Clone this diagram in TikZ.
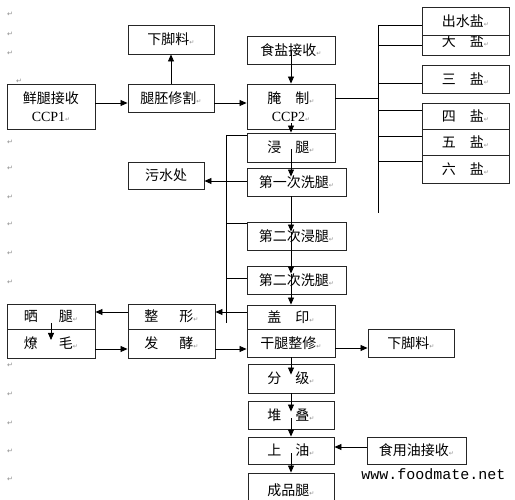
\documentclass[tikz,border=0pt]{standalone}
\usepackage{fontspec}
\setmainfont{Liberation Serif}
\newfontfamily\cjk{Noto Sans CJK SC}
\newfontfamily\symf{DejaVu Sans}
\newfontfamily\monof{Liberation Mono}
\usetikzlibrary{arrows.meta}
\newcommand\retmark{{\symf\fontsize{6}{6}\selectfont\color{black!45}↵}}
\begin{document}
\begin{tikzpicture}[x=1pt,y=-1pt,
  >={Triangle[length=7pt,width=6pt]},
  line width=0.8pt,
  box/.style n args={2}{draw=black!85, line width=0.9pt, fill=white, inner sep=0pt,
    minimum width=#1pt, minimum height=#2pt, align=center,
    font=\cjk\fontsize{14}{18}\selectfont},
  retm/.style={font=\symf\fontsize{7}{7}\selectfont, text=black!45, inner sep=0pt}]
\useasboundingbox[fill=white] (0,0) rectangle (515,500);
% paragraph marks at the left margin
\foreach \yy [count=\i] in {14,34,53,142,168,197,224,253,282,365,394,423,451,479}
  \node[retm] (m\i) at (10,\yy) {↵};
\node[retm] (m0) at (19,81) {↵};
% boxes
\node[box={88}{45}] (xj) at (51,106.5) {鲜腿接收\\{\rmfamily CCP1}\retmark};
\node[box={86}{29}] (xjl) at (171,39.5) {下脚料\retmark};
\node[box={86}{28}] (tp) at (171,98) {腿胚修割\retmark};
\node[box={88}{28}] (ys) at (291,50) {食盐接收\retmark};
\node[box={88}{45}] (yz) at (291,106.5) {腌\hspace{1em}制\retmark\\{\rmfamily CCP2}\retmark};
\node[box={88}{29}] (jt) at (291,147.5) {浸\hspace{1em}腿\retmark};
\node[box={99}{28}] (x1) at (296.5,182) {第一次洗腿\retmark};
\node[box={76}{27}] (ws) at (166,175.5) {污水处};
\node[box={99}{28}] (j2) at (296.5,236) {第二次浸腿\retmark};
\node[box={99}{28}] (x2) at (296.5,280) {第二次洗腿\retmark};
\node[box={88}{24}] (gy) at (291,317) {盖\hspace{1em}印\retmark};
\node[box={88}{28}] (gt) at (291,343) {干腿整修\retmark};
\node[box={86}{28}] (xjr) at (411,343) {下脚料\retmark};
\node[box={88}{25}] (st) at (51,316.5) {晒\hspace{1.5em}腿\retmark};
\node[box={88}{29}] (lm) at (51,343.5) {燎\hspace{1.5em}毛\retmark};
\node[box={87}{25}] (zx) at (171.5,316.5) {整\hspace{1.5em}形\retmark};
\node[box={87}{29}] (fj) at (171.5,343.5) {发\hspace{1.5em}酵\retmark};
\node[box={86}{29}] (fjb) at (291,378.5) {分\hspace{1em}级\retmark};
\node[box={86}{28}] (dd) at (291,415) {堆\hspace{1em}叠\retmark};
\node[box={86}{27}] (sy) at (291,450.5) {上\hspace{1em}油\retmark};
\node[box={86}{37}] (cp) at (291,491.5) {\raisebox{4pt}{成品腿\retmark}};
\node[box={99}{27}] (syy) at (416.5,450.5) {食用油接收\retmark};
% salt boxes
\node[box={87}{28}] (ds) at (465.5,41) {\raisebox{-2pt}{大\hspace{1em}盐\retmark}};
\node[box={87}{28}] (cs) at (465.5,21) {出水盐\retmark};
\node[box={87}{28}] (s3) at (465.5,79) {三\hspace{1em}盐\retmark};
\node[box={87}{26}] (s4) at (465.5,116) {四\hspace{1em}盐\retmark};
\node[box={87}{26}] (s5) at (465.5,142) {五\hspace{1em}盐\retmark};
\node[box={87}{28}] (s6) at (465.5,169) {六\hspace{1em}盐\retmark};
% web address
\node[font=\monof\fontsize{15}{15}\selectfont, inner sep=0pt] (web) at (433.5,474) {www.foodmate.net};
% main flow
\coordinate (ra) at (0,103);
\draw[->] (xj.east |- ra) -- (tp.west |- ra);
\draw[->] (tp.east |- ra) -- (yz.west |- ra);
\draw[->] (tp.north) -- (xjl.south);
\draw[->] ([yshift=-1pt]ys.center) -- (yz.north);
\draw[->] ([yshift=6pt]yz.south) -- (jt.north);
\draw[->] ([yshift=-2pt]jt.center) -- ([xshift=-5.5pt,yshift=-9pt]x1.north);
\draw[->] ([xshift=-5.5pt]x1.south) -- ([xshift=-5.5pt,yshift=-10pt]j2.north);
\draw[->] ([xshift=-5.5pt,yshift=-10pt]j2.north) -- ([xshift=-5.5pt,yshift=-8pt]x2.north);
\draw[->] ([xshift=-5.5pt,yshift=-8pt]x2.north) -- (gy.north);
\draw[->] (gt.south) -- ([yshift=-11pt]fjb.north);
\draw[->] (fjb.south) -- ([yshift=-11pt]dd.north);
\draw[->] ([yshift=-3pt]dd.center) -- (sy.north);
\draw[->] ([yshift=-2.5pt]sy.center) -- (cp.north);
\coordinate (rb) at (0,447);
\draw[->] (syy.west |- rb) -- (sy.east |- rb);
\coordinate (rc) at (0,348);
\draw[->] (gt.east |- rc) -- (xjr.west |- rc);
\coordinate (rd) at (0,349);
\draw[->] (lm.east |- rd) -- (fj.west |- rd);
\draw[->] (fj.east |- rd) -- (gt.west |- rd);
\coordinate (re) at (0,312);
\draw[->] (zx.west |- re) -- (st.east |- re);
\draw[->] ([yshift=-6.5pt]st.center) -- ([yshift=3.5pt]lm.center);
% left collecting line
\coordinate (lt) at (226,135);
\coordinate (lb) at (226,323);
\draw (lt) -- (lb);
\draw (lt) -- (jt.west |- lt);
\coordinate (l1) at (226,181);
\draw (l1) -- (x1.west |- l1);
\draw[->] (l1) -- (ws.east |- l1);
\coordinate (l2) at (226,223);
\draw (l2) -- (j2.west |- l2);
\coordinate (l3) at (226,278);
\draw (l3) -- (x2.west |- l3);
\coordinate (l4) at (226,312);
\draw (l4) -- (gy.west |- l4);
\draw[->] (l4) -- (zx.east |- l4);
% right salting line
\coordinate (bt) at (378,25);
\coordinate (bb) at (378,213);
\draw (bt) -- (bb);
\coordinate (bm) at (378,98);
\draw (yz.east |- bm) -- (bm);
\coordinate (q1) at (378,25);  \draw (q1) -- (cs.west |- q1);
\coordinate (q2) at (378,45);  \draw (q2) -- (ds.west |- q2);
\coordinate (q3) at (378,83);  \draw (q3) -- (s3.west |- q3);
\coordinate (q4) at (378,110); \draw (q4) -- (s4.west |- q4);
\coordinate (q5) at (378,136); \draw (q5) -- (s5.west |- q5);
\coordinate (q6) at (378,161); \draw (q6) -- (s6.west |- q6);
\end{tikzpicture}
\end{document}
